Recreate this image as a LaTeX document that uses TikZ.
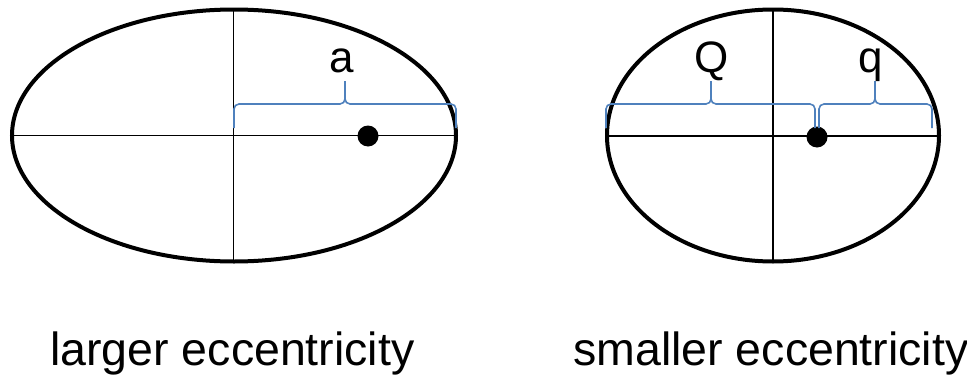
\documentclass[tikz,border=0pt]{standalone}
\usepackage{fontspec}
\setmainfont{Liberation Sans}
\definecolor{bracecol}{RGB}{79,129,189}
\begin{document}
\begin{tikzpicture}[x=1pt,y=-1pt,
  orbit/.style={draw=black,line width=4pt},
  axis/.style={draw=black,line width=1.6pt},
  bracepath/.style={draw=bracecol,line width=1.6pt,rounded corners=5pt},
  focus/.style={fill=black},
  lbl/.style={anchor=base,inner sep=0pt,font=\fontsize{44}{48}\selectfont},
  caption/.style={anchor=base west,inner sep=0pt,font=\fontsize{46.5}{50}\selectfont}]
\useasboundingbox (0,0) rectangle (967,375);
% left ellipse
\draw[orbit] (234,135.5) ellipse [x radius=222, y radius=126];
\draw[axis] (12,135.5) -- (456,135.5);
\draw[axis] (233.5,9.5) -- (233.5,261.5);
\fill[focus] (368,136) circle [radius=10.5];
\draw[bracepath] (234,128) -- (234,104) -- (345,104) -- (345,81);
\draw[bracepath] (345,81) -- (345,104) -- (456,104) -- (456,128);
\node[lbl] (la) at (342,72) {a};
% right ellipse
\draw[orbit] (773,135.5) ellipse [x radius=166, y radius=126];
\draw[axis] (609,136) -- (937,136);
\draw[axis] (773,9.5) -- (773,261.5);
\fill[focus] (817,137) circle [radius=10.5];
\draw[bracepath] (606,128) -- (606,104) -- (711,104) -- (711,81);
\draw[bracepath] (711,81) -- (711,104) -- (815,104) -- (815,128);
\draw[bracepath] (819,128) -- (819,104) -- (875,104) -- (875,81);
\draw[bracepath] (875,81) -- (875,104) -- (932,104) -- (932,128);
\node[lbl] (lQ) at (712,72) {Q};
\node[lbl] (lq) at (871,72) {q};
% captions
\node[caption] (cap1) at (50,365) {larger eccentricity};
\node[caption] (cap2) at (573,365) {smaller eccentricity};
\end{tikzpicture}
\end{document}
